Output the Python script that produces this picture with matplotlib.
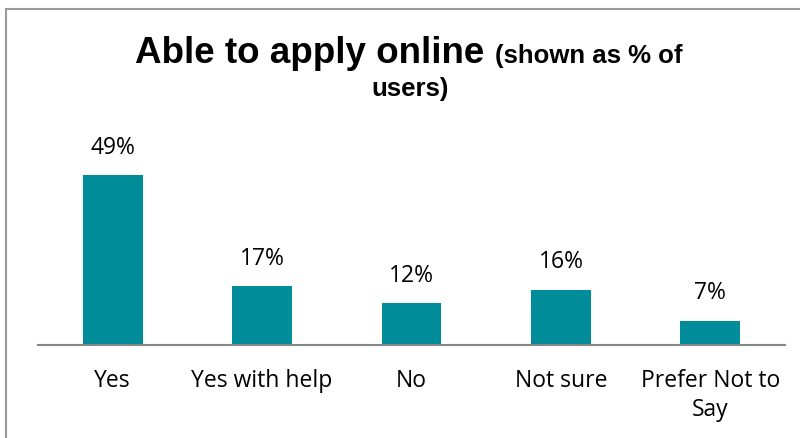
import matplotlib.pyplot as plt
from matplotlib.patches import Rectangle

categories = ['Yes', 'Yes with help', 'No', 'Not sure', 'Prefer Not to\nSay']
values = [49, 17, 12, 16, 7]
bar_color = '#008C99'

plt.rcParams['font.family'] = ['Open Sans', 'DejaVu Sans']

fig = plt.figure(figsize=(8, 4.38), dpi=100)
ax = fig.add_axes([0.0475, 0.2123, 0.9338, 0.491])

x = range(len(categories))
ax.bar(x, values, width=0.4, color=bar_color)
for i, v in zip(x, values):
    ax.annotate(f'{v}%', (i, v), xytext=(0, 11), textcoords='offset points',
                ha='center', va='bottom', fontsize=16.5)

ax.set_xlim(-0.5, len(categories) - 0.5)
ax.set_ylim(0, 62)
ax.set_xticks(list(x))
ax.set_xticklabels(categories, fontsize=16.5, linespacing=1.32)
ax.tick_params(axis='x', length=0, pad=17)
ax.set_yticks([])
for side in ['top', 'left', 'right']:
    ax.spines[side].set_visible(False)
ax.spines['bottom'].set_color('#868686')
ax.spines['bottom'].set_linewidth(1.5)

# title: big bold part followed by a smaller bold note, wrapped onto two lines
fig.canvas.draw()
r = fig.canvas.get_renderer()
t1 = fig.text(0, 0.856, 'Able to apply online ', fontsize=26.5, fontweight='bold',
              family='Liberation Sans', va='baseline')
t2 = fig.text(0, 0.856, '(shown as % of', fontsize=18.5, fontweight='bold',
              family='Liberation Sans', va='baseline')
w1 = t1.get_window_extent(r).width / fig.bbox.width
w2 = t2.get_window_extent(r).width / fig.bbox.width
x0 = 0.511 - (w1 + w2) / 2
t1.set_x(x0)
t2.set_x(x0 + w1)
fig.text(0.512, 0.781, 'users)', fontsize=18.5, fontweight='bold',
         family='Liberation Sans', ha='center', va='baseline')

# outer frame
fig.patches.append(Rectangle((0.0075, -0.1), 1.2, 0.979 + 0.1, transform=fig.transFigure,
                             fill=False, edgecolor='#9a9a9a', linewidth=1.5))

fig.savefig('out.png', dpi=100)
